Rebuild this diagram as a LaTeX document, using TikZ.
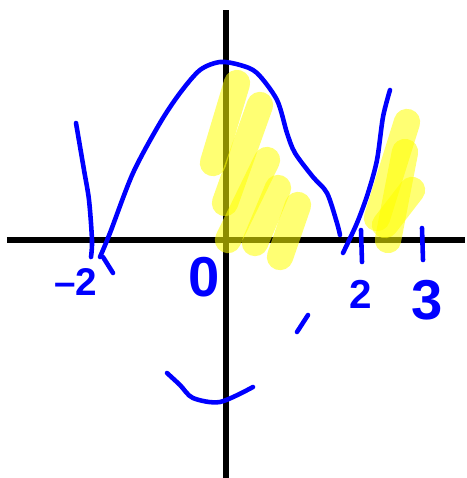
\documentclass[tikz,border=0pt]{standalone}
\usepackage{fontspec}
\setmainfont{Liberation Sans}
\begin{document}
\begin{tikzpicture}[x=0.02cm,y=-0.02cm]
    \definecolor{mypen}{RGB}{0,0,255}
    \definecolor{myhigh}{RGB}{255,255,0}
    \tikzset{
        pen/.style={mypen, line width=2.6pt, line cap=round, line join=round},
        axis/.style={black, line width=3.4pt},
        highlight/.style={myhigh, opacity=0.55, line width=15pt, line cap=round},
        digit/.style={mypen, inner sep=0pt, font=\fontsize{#1}{#1}\selectfont\bfseries}
    }
    \useasboundingbox (0,0) rectangle (467,478);

    \draw[axis] (7,240) -- (465,240);
    \draw[axis] (226,10) -- (226,478);

    \draw[pen] plot[smooth] coordinates {(76,123) (84,170) (89,200) (92,240) (91,257)};
    \draw[pen] (103,257) -- (113,273);
    \draw[pen] plot[smooth] coordinates {(100,257) (110,233) (133,173) (160,123) (180,93)
        (200,70) (220,62) (240,65) (257,73) (277,100) (287,133) (295,153) (313,177)
        (327,193) (337,223) (340,235)};
    \draw[pen] plot[smooth] coordinates {(343,253) (357,223) (368,193) (377,160) (383,117) (390,90)};
    \draw[pen] (361,230) -- (362,262);
    \draw[pen] (422,228) -- (423,260);
    \draw[pen] (308,315) -- (297,332);
    \draw[pen] plot[smooth] coordinates {(167,373) (180,385) (193,398) (220,402) (253,387)};

    \node[digit=22] (lbmtwo) at (76,282) {--2};
    \node[digit=32] (lbzero) at (204,277) {0};
    \node[digit=23] (lbtwo) at (361,294) {2};
    \node[digit=32] (lbthree) at (427,300) {3};

    \foreach \xa/\ya/\xb/\yb in {237/83/213/163, 260/105/225/203, 267/160/228/240,
        278/188/255/243, 298/205/280/257, 407/122/377/218, 405/152/388/240, 412/190/385/225} {
        \draw[highlight] (\xa,\ya) -- (\xb,\yb);
    }
\end{tikzpicture}
\end{document}
